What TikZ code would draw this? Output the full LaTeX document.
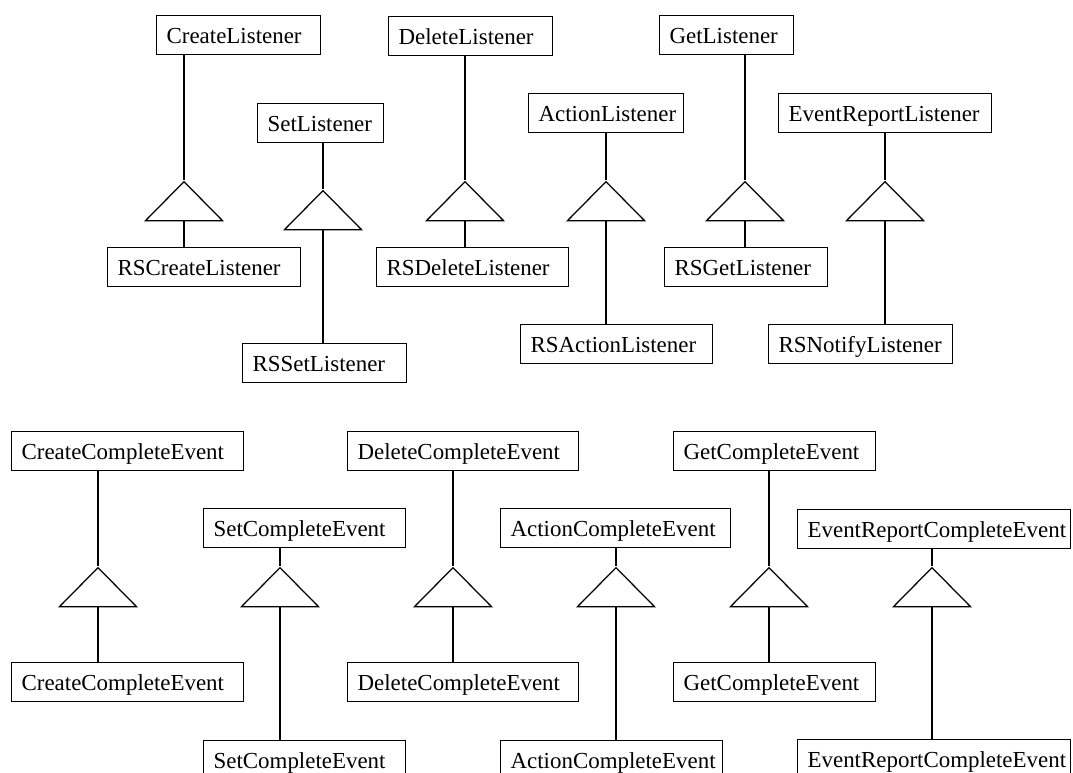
\documentclass[tikz,border=0pt]{standalone}
\usepackage{fontspec}
\setmainfont{Liberation Serif}
\usetikzlibrary{shapes.geometric}

\begin{document}
\begin{tikzpicture}[
  x=0.025cm, y=-0.025cm,
  line width=0.9pt,
  every node/.style={font=\fontsize{16.3}{19}\selectfont},
  cls/.style={draw, anchor=north west, inner xsep=0.25cm, inner ysep=0pt,
              text width=#1*0.025cm-0.5cm, align=left,
              minimum height=0.975cm,
              text height=11.8pt, text depth=0.4pt},
  tri/.style={draw, isosceles triangle, isosceles triangle stretches,
              shape border rotate=90, inner sep=0pt,
              minimum width=1.925cm, minimum height=0.975cm, anchor=apex},
]

\useasboundingbox (0,0) rectangle (1073,773);
\clip (0,0) rectangle (1073,773);

%% ── Listener interfaces and their RS implementations ─────────────────────────
\node[cls=164] (createL)   at (156, 15) {CreateListener};
\node[tri]     (tCreateL)  at (184,180) {};
\node[cls=193] (rsCreateL) at (107,247) {RSCreateListener};

\node[cls=126] (setL)      at (257,103) {SetListener};
\node[tri]     (tSetL)     at (323,189) {};
\node[cls=164] (rsSetL)    at (242,343) {RSSetListener};

\node[cls=164] (deleteL)   at (388, 16) {DeleteListener};
\node[tri]     (tDeleteL)  at (465,180) {};
\node[cls=192] (rsDeleteL) at (376,247) {RSDeleteListener};

\node[cls=155] (actionL)   at (528, 93) {ActionListener};
\node[tri]     (tActionL)  at (606,180) {};
\node[cls=192] (rsActionL) at (520,324) {RSActionListener};

\node[cls=134] (getL)      at (659, 15) {GetListener};
\node[tri]     (tGetL)     at (745,180) {};
\node[cls=163] (rsGetL)    at (664,247) {RSGetListener};

\node[cls=213] (reportL)   at (778, 93) {EventReportListener};
\node[tri]     (tReportL)  at (885,180) {};
\node[cls=184] (rsNotifyL) at (768,324) {RSNotifyListener};

%% ── Completion events ────────────────────────────────────────────────────────
\node[cls=232] (createE)   at ( 11,431) {CreateCompleteEvent};
\node[tri]     (tCreateE)  at ( 98,566) {};
\node[cls=232] (createE2)  at ( 11,662) {CreateCompleteEvent};

\node[cls=202] (setE)      at (203,508) {SetCompleteEvent};
\node[tri]     (tSetE)     at (280,566) {};
\node[cls=202] (setE2)     at (203,740) {SetCompleteEvent};

\node[cls=231] (deleteE)   at (347,431) {DeleteCompleteEvent};
\node[tri]     (tDeleteE)  at (453,566) {};
\node[cls=231] (deleteE2)  at (347,662) {DeleteCompleteEvent};

\node[cls=230] (actionE)   at (500,508) {ActionCompleteEvent};
\node[tri]     (tActionE)  at (616,566) {};
\node[cls=222] (actionE2)  at (500,740) {ActionCompleteEvent};

\node[cls=202] (getE)      at (673,431) {GetCompleteEvent};
\node[tri]     (tGetE)     at (769,566) {};
\node[cls=202] (getE2)     at (673,662) {GetCompleteEvent};

\node[cls=273] (reportE)   at (797,509) {EventReportCompleteEvent};
\node[tri]     (tReportE)  at (932,566) {};
\node[cls=273] (reportE2)  at (797,739) {EventReportCompleteEvent};

%% ── Inheritance links: parent -> triangle -> child ───────────────────────────
\foreach \p/\t/\c in {createL/tCreateL/rsCreateL, setL/tSetL/rsSetL,
                      deleteL/tDeleteL/rsDeleteL, actionL/tActionL/rsActionL,
                      getL/tGetL/rsGetL, reportL/tReportL/rsNotifyL,
                      createE/tCreateE/createE2, setE/tSetE/setE2,
                      deleteE/tDeleteE/deleteE2, actionE/tActionE/actionE2,
                      getE/tGetE/getE2, reportE/tReportE/reportE2}{
  \draw (\p.south -| \t.apex) -- (\t.apex);
  \draw (\t.south) -- (\c.north -| \t.south);
}

\end{tikzpicture}
\end{document}
